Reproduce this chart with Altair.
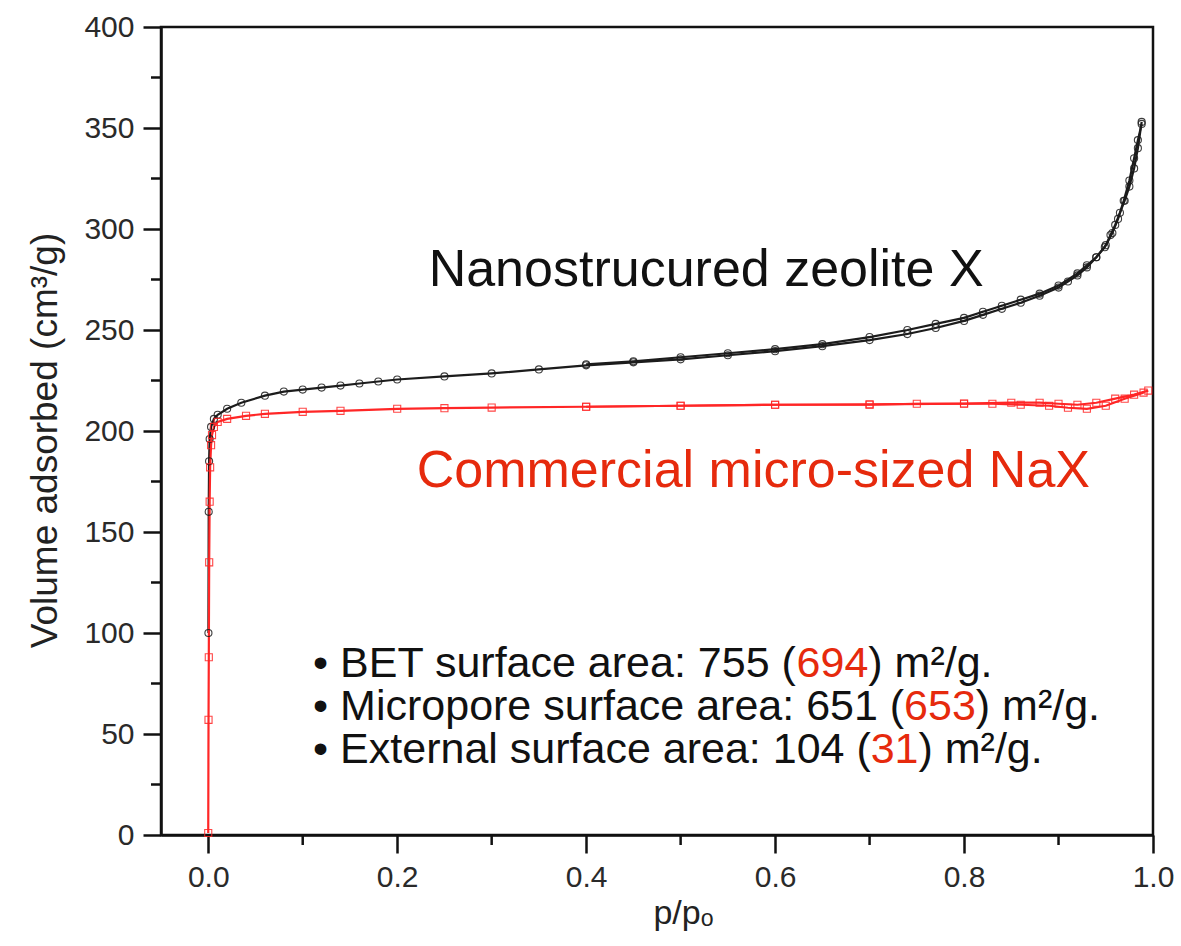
import altair as alt
import pandas as pd

# ---- isotherm data (relative pressure p/p0, volume adsorbed cm3/g STP) ----
nano_ads_p = [0.0002, 0.0005, 0.0009, 0.0015, 0.003, 0.006, 0.01, 0.02, 0.035, 0.06,
              0.08, 0.1, 0.12, 0.14, 0.16, 0.18, 0.2, 0.25, 0.3, 0.35, 0.4, 0.45,
              0.5, 0.55, 0.6, 0.65, 0.7, 0.74, 0.77, 0.8, 0.82, 0.84, 0.86, 0.88,
              0.9, 0.91, 0.92, 0.93, 0.94, 0.95, 0.955, 0.96, 0.965, 0.97, 0.975,
              0.98, 0.984, 0.988]
nano_ads_v = [100, 160, 185, 196, 202, 206, 208, 211, 214, 217.5,
              219.5, 220.5, 221.5, 222.5, 223.5, 224.5, 225.5, 227, 228.5, 230.5, 232.5, 234,
              235.5, 237.5, 239.5, 242, 245, 248, 251, 254.5, 257.5, 260.5, 263.5, 267,
              271, 274, 277, 281, 286, 292, 297, 302, 308, 314, 321,
              330, 340, 353]

nano_des_p = [0.988, 0.984, 0.98, 0.975, 0.969, 0.963, 0.957, 0.949, 0.94, 0.93,
              0.92, 0.9, 0.88, 0.86, 0.84, 0.82, 0.8, 0.77, 0.74, 0.7, 0.65,
              0.6, 0.55, 0.5, 0.45, 0.4]
nano_des_v = [352, 344, 335, 324, 314, 305, 298, 291, 286, 282,
              278, 272, 268, 265, 262, 259, 256, 253, 250, 246.5, 243,
              240.5, 238.5, 236.5, 234.5, 233]

nax_ads_p = [0.0, 0.0003, 0.0006, 0.001, 0.0015, 0.002, 0.003, 0.004, 0.006, 0.01,
             0.02, 0.04, 0.06, 0.1, 0.14, 0.2, 0.25, 0.3, 0.4, 0.5, 0.6, 0.7,
             0.8, 0.85, 0.88, 0.9, 0.92, 0.94, 0.96, 0.98, 0.995]
nax_ads_v = [1, 57, 88, 135, 165, 182, 193, 198, 202, 204.5,
             206, 207.5, 208.5, 209.5, 210, 211, 211.3, 211.6, 212, 212.5, 213, 213.2,
             213.6, 214, 214, 213.5, 213, 214, 216, 218, 220]

nax_des_p = [0.99, 0.97, 0.95, 0.93, 0.91, 0.89, 0.86, 0.83, 0.8, 0.75, 0.7,
             0.6, 0.5, 0.4]
nax_des_v = [219, 216, 212.5, 211, 211.5, 212.5, 213, 213.5, 213.5, 213.5, 213,
             213, 212.5, 212]

# minor tick positions
x_minor = [0.1, 0.3, 0.5, 0.7, 0.9]
y_minor = [25, 75, 125, 175, 225, 275, 325, 375]

# surface-area summary (nanostructured X, commercial NaX in brackets)
area_labels = ["BET surface area", "Micropore surface area", "External surface area"]
area_nano = [755, 651, 104]
area_nax = [694, 653, 31]

PLOT_W, PLOT_H = 992, 808
X_DOM = [-0.05, 1.0]
Y_DOM = [0, 400]
FONT = "Liberation Sans"
BLACK = "#111111"
RED_TXT = "#e62a0d"
RED_LINE = "#ff2626"

rows = []
for sample, branch, ps, vs in [
    ("nano", "ads", nano_ads_p, nano_ads_v),
    ("nano", "des", nano_des_p, nano_des_v),
    ("nax", "ads", nax_ads_p, nax_ads_v),
    ("nax", "des", nax_des_p, nax_des_v),
]:
    for i, (p, v) in enumerate(zip(ps, vs)):
        rows.append({"sample": sample, "branch": f"{sample}-{branch}",
                     "seq": i, "p": p, "v": v})
iso = pd.DataFrame(rows)

xscale = alt.Scale(domain=X_DOM, nice=False, zero=False)
yscale = alt.Scale(domain=Y_DOM, nice=False)
cscale = alt.Scale(domain=["nano", "nax"], range=["#1c1c1c", RED_LINE])

lines = alt.Chart(iso).mark_line(strokeWidth=2.2).encode(
    x=alt.X("p:Q", scale=xscale,
            axis=alt.Axis(values=[0, 0.2, 0.4, 0.6, 0.8, 1.0], format=".1f",
                          labelFlush=False, labelPadding=9,
                          title="p/pₒ", titleX=522, titleY=88,
                          titleFontSize=34, titleBaseline="alphabetic",
                          titleAlign="center")),
    y=alt.Y("v:Q", scale=yscale,
            axis=alt.Axis(values=list(range(0, 401, 50)), labelPadding=9,
                          title="Volume adsorbed (cm³/g)", titleX=-116, titleY=413,
                          titleAngle=270, titleAlign="center",
                          titleBaseline="middle", titleFontSize=37)),
    color=alt.Color("sample:N", scale=cscale, legend=None),
    detail="branch:N",
    order="seq:Q",
)

points = alt.Chart(iso).mark_point(filled=False, size=50, strokeWidth=1.1,
                                   opacity=0.85).encode(
    x=alt.X("p:Q", scale=xscale, axis=None),
    y=alt.Y("v:Q", scale=yscale, axis=None),
    color=alt.Color("sample:N", scale=cscale, legend=None),
    shape=alt.Shape("sample:N",
                    scale=alt.Scale(domain=["nano", "nax"], range=["circle", "square"]),
                    legend=None),
)

# minor ticks
xminor = alt.Chart(pd.DataFrame({"x": x_minor})).mark_rule(
    color=BLACK, strokeWidth=2.5).encode(
    x=alt.X("x:Q", scale=xscale, axis=None),
    y=alt.value(PLOT_H), y2=alt.value(PLOT_H + 10))
yminor = alt.Chart(pd.DataFrame({"y": y_minor})).mark_rule(
    color=BLACK, strokeWidth=2.5).encode(
    y=alt.Y("y:Q", scale=yscale, axis=None),
    x=alt.value(0), x2=alt.value(-10))

# sample labels
sample_labels = pd.DataFrame({
    "x": [0.527, 0.577],
    "y": [272, 172.5],
    "text": ["Nanostrucured zeolite X", "Commercial micro-sized NaX"],
    "color": [BLACK, RED_TXT],
})
names = alt.Chart(sample_labels).mark_text(
    font=FONT, fontSize=52, align="center", baseline="alphabetic").encode(
    x=alt.X("x:Q", scale=xscale, axis=None),
    y=alt.Y("y:Q", scale=yscale, axis=None),
    text="text:N",
    color=alt.Color("color:N", scale=None),
)

# summary lines built from coloured segments laid end to end
ARIAL = {" ": 278, "(": 333, ")": 333, ".": 278, "/": 278, ":": 278, "•": 350,
         "²": 333, "A": 667, "B": 667, "E": 667, "M": 833, "T": 611, "a": 556,
         "c": 500, "e": 556, "f": 278, "g": 556, "i": 222, "l": 222, "m": 833,
         "n": 556, "o": 556, "p": 556, "r": 333, "s": 500, "t": 278, "u": 556,
         "x": 500}


def text_width(s, size):
    return sum(ARIAL.get(ch, 556) for ch in s) * size / 1000.0


STAT_SIZE = 43
STAT_X0 = 0.111
stat_baselines = [78.2, 56.9, 35.6]
units_per_px = (X_DOM[1] - X_DOM[0]) / PLOT_W
seg_rows = []
for lab, a, b, yb in zip(area_labels, area_nano, area_nax, stat_baselines):
    segs = [(f"• {lab}: {a} (", BLACK), (f"{b}", RED_TXT), (") m²/g.", BLACK)]
    x = STAT_X0
    for s, col in segs:
        seg_rows.append({"x": x, "y": yb, "text": s, "color": col})
        x += text_width(s, STAT_SIZE) * units_per_px
stats = alt.Chart(pd.DataFrame(seg_rows)).mark_text(
    font=FONT, fontSize=STAT_SIZE, align="left", baseline="alphabetic").encode(
    x=alt.X("x:Q", scale=xscale, axis=None),
    y=alt.Y("y:Q", scale=yscale, axis=None),
    text="text:N",
    color=alt.Color("color:N", scale=None),
)

chart = alt.layer(lines, points, xminor, yminor, names, stats).resolve_axis(
    x="independent", y="independent"
).properties(
    width=PLOT_W, height=PLOT_H,
    padding={"left": 161, "top": 27, "right": 28, "bottom": 111},
    autosize=alt.AutoSizeParams(type="none"),
    background="white",
).configure_view(
    stroke=BLACK, strokeWidth=2.5,
).configure_axis(
    grid=False,
    labelFont=FONT, labelFontSize=30, labelColor="#2a2a2a",
    titleFont=FONT, titleFontWeight="normal", titleColor="#222222",
    tickSize=18, tickWidth=2.5, tickColor=BLACK,
    domainColor=BLACK, domainWidth=2.5,
)

chart.save("out.html", embed_options={"renderer": "svg", "actions": False})
